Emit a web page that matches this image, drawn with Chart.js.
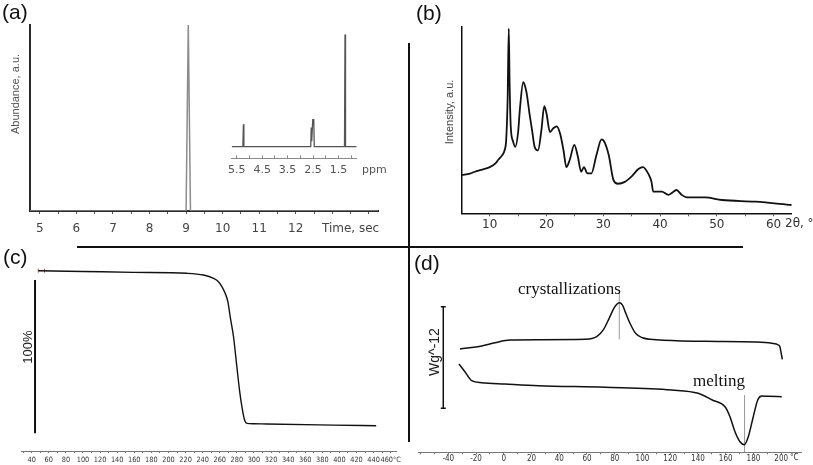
<!DOCTYPE html>
<html>
<head>
<meta charset="utf-8">
<script src="https://cdn.jsdelivr.net/npm/chart.js@4.4.1/dist/chart.umd.min.js"></script>
<style>
  body { margin: 0; background: #fff; width: 813px; height: 465px; overflow: hidden; position: relative; font-family: 'Liberation Sans', Arial, sans-serif; }
  .box { position: absolute; }
  .txt { position: absolute; white-space: nowrap; line-height: 1; color: #111; }
  .rot { transform: translate(-50%, -50%) rotate(-90deg); }
  .rule { position: absolute; background: #111; }
  .serif { font-family: 'Liberation Serif', 'Times New Roman', serif; font-size: 17px; }
</style>
</head>
<body>
<div class="box" style="left:0;top:0;width:405px;height:240px"><canvas id="gcChart"></canvas></div>
<div class="box" style="left:200px;top:25px;width:200px;height:155px"><canvas id="nmrChart"></canvas></div>
<div class="box" style="left:438px;top:0;width:375px;height:240px"><canvas id="xrdChart"></canvas></div>
<div class="box" style="left:0;top:250px;width:405px;height:215px"><canvas id="tgaChart"></canvas></div>
<div class="box" style="left:410px;top:250px;width:403px;height:215px"><canvas id="dscChart"></canvas></div>

<div class="rule" style="left:408px;top:43px;width:2px;height:399px"></div>
<div class="rule" style="left:77px;top:246px;width:666px;height:2px"></div>

<div class="txt" style="left:2px;top:1px;font-size:21px">(a)</div>
<div class="txt" style="left:416px;top:2px;font-size:21px">(b)</div>
<div class="txt" style="left:3px;top:246px;font-size:21px">(c)</div>
<div class="txt" style="left:414px;top:252px;font-size:21px">(d)</div>

<div class="txt rot" style="left:15px;top:94px;font-size:11px;color:#555">Abundance, a.u.</div>
<div class="txt" style="left:362px;top:164px;font-size:11px;color:#555;font-family:'DejaVu Sans',sans-serif">ppm</div>
<div class="txt rot" style="left:449px;top:112px;font-size:11px;color:#444">Intensity, a.u.</div>
<div class="txt" style="left:785px;top:217px;font-size:12px;color:#333;font-family:'DejaVu Sans',sans-serif">2θ, °</div>
<div class="txt rot" style="left:27px;top:347px;font-size:13px;color:#222">100%</div>
<div class="txt rot" style="left:434px;top:352px;font-size:14px;color:#222">Wg^-12</div>
<div class="txt serif" style="left:518px;top:280px">crystallizations</div>
<div class="txt serif" style="left:693px;top:372px">melting</div>
<div class="txt" style="left:790px;top:454px;font-size:8px;color:#333;font-family:'DejaVu Sans Condensed','DejaVu Sans',sans-serif">°C</div>

<script>
// (a) chromatogram, retention time in s
const gcTime = [4.73, 9.0, 9.06, 9.12, 14.25];
const gcAbund = [0, 0, 100, 0, 0];
const gcLabels = [5, 6, 7, 8, 9, 10, 11, 12];

// (a) inset 1H NMR, ppm
const nmrPpm = [5.7, 5.26, 5.24, 5.22, 2.59, 2.57, 2.55, 2.51, 2.47, 2.45, 1.26, 1.24, 1.22, 0.78];
const nmrInt = [0, 0, 20, 0, 0, 17, 5, 24, 24, 0, 0, 100, 0, 0];
const nmrLabels = [5.5, 4.5, 3.5, 2.5, 1.5];

// (b) XRD pattern
const xrdAngle = [5.1, 6.5, 7.4, 8.5, 10, 11, 11.5, 12.2, 12.6, 12.9, 13.15, 13.35, 13.5, 13.7, 14.1, 14.5,
  15.0, 15.3, 15.9, 16.2, 16.5, 17, 17.5, 17.9, 18.5, 19.1, 19.6, 20, 20.6, 21.2, 21.8, 22.4, 23, 23.5,
  24.1, 24.9, 25.5, 26.1, 26.6, 27.2, 27.9, 28.8, 29.7, 30.3, 31, 31.8, 32.6, 33.8, 35, 36.2, 37, 37.9,
  38.5, 38.8, 40.3, 41.5, 42, 42.9, 43.8, 44.7, 47.9, 50.9, 56.8, 63.2];
const xrdInt = [20.7, 21.5, 22.5, 23.5, 25, 27, 29, 31.5, 34, 40, 62, 100, 70, 47, 39, 36,
  44, 56, 71, 69, 65, 54, 44, 36, 34, 45, 58, 54, 44, 46, 47, 43, 34, 25,
  29, 37, 31, 22.5, 25, 21.6, 21.6, 31.5, 40, 38, 31, 18, 16, 17, 20, 24, 25, 21.6,
  17, 11.7, 11.7, 10, 10.8, 12.6, 10, 8.6, 8.6, 7.2, 6.3, 4.5];
const xrdLabels = [10, 20, 30, 40, 50, 60];

// (c) TGA, mass %
const tgaTemp = [47.7, 100, 159, 221.5, 241, 252.7, 258.5, 262.5, 266.3, 269.5, 272.2, 276.1, 280, 283.1,
  285.9, 289, 291.8, 299.5, 315, 393, 443];
const tgaMass = [100, 99.5, 98.9, 98.3, 97.2, 95.1, 92.9, 89.7, 85.4, 80, 70.3, 57.4, 38.1, 23,
  12.3, 3.7, 1.5, 1.3, 1.1, 0.4, 0];
const tgaBarTemp = [43.9, 43.9];
const tgaBarMass = [-4.9, 94];
const tgaStartTemp = [47.7, 55];
const tgaStartMass = [100, 100];
const tgaLabels = [40, 60, 80, 100, 120, 140, 160, 180, 200, 220, 240, 260, 280, 300, 320, 340, 360, 380, 400, 420, 440, 460];

// (d) DSC, heat flow (arbitrary)
const coolTemp = [-31.6, -15.9, -6.3, 4.5, 24.9, 58.6, 67, 72, 76, 79, 81.5, 83.3, 85.5, 88, 91, 95, 100, 110,
  145, 181, 193.2, 198, 199.1, 199.8, 200.8];
const coolFlow = [10.33, 10.63, 10.96, 11.23, 11.26, 11.3, 11.56, 12.3, 13.4, 14.3, 14.8, 14.96, 14.75, 13.9,
  12.9, 11.9, 11.45, 11.25, 11.1, 11.03, 10.9, 10.73, 10.56, 10.06, 9.3];
const heatTemp = [-32.3, -28, -23.1, -15.9, 0.9, 24.9, 73, 121, 140.2, 150.3, 159.5, 163.1, 166.7, 170.3,
  173.4, 176.3, 179.9, 183.1, 186, 190.7, 200.4];
const heatFlow = [8.83, 8.06, 7.16, 6.96, 6.83, 6.66, 6.5, 6.23, 5.9, 5.23, 4.56, 3.56, 2.06, 1.06,
  0.76, 1.56, 3.56, 5.23, 5.63, 5.6, 5.56];
const dscBarTemp = [-43.6, -43.6];
const dscBarFlow = [4.4, 14.56];
const crystMarkTemp = [83.3, 83.3];
const crystMarkFlow = [11.3, 16.23];
const meltMarkTemp = [173.6, 173.6];
const meltMarkFlow = [0, 5.73];
const dscLabels = [-40, -20, 0, 20, 40, 60, 80, 100, 120, 140, 160, 180, 200];

const sans = "'DejaVu Sans', Verdana, sans-serif";
const narrow = "'DejaVu Sans Condensed', 'Liberation Sans Narrow', 'DejaVu Sans', sans-serif";

function series(xs, ys, color, width, extra) {
  return Object.assign({
    data: xs.map((x, i) => ({ x, y: ys[i] })),
    showLine: true, borderColor: color, borderWidth: width,
    pointRadius: 0, tension: 0, fill: false
  }, extra || {});
}

function pick(list) {
  return v => (list.some(t => Math.abs(t - v) < 1e-6) ? String(v) : '');
}

function bottomAxis(c) {
  return {
    type: 'linear', min: c.min, max: c.max, reverse: !!c.reverse,
    border: { display: true, color: c.axisColor || '#222', width: c.axisWidth || 1.5 },
    grid: { display: true, drawOnChartArea: false, drawTicks: true, tickLength: c.tickLength, color: c.tickColor || '#555', lineWidth: 1 },
    ticks: {
      stepSize: c.step, includeBounds: false, autoSkip: false, maxRotation: 0, minRotation: 0,
      padding: c.padding, color: c.color, font: c.font, callback: c.label
    },
    afterFit: s => { s.height = c.height; }
  };
}

function leftAxis(min, max, width, color, lw) {
  return {
    type: 'linear', min, max,
    border: { display: true, color, width: lw },
    grid: { display: false }, ticks: { display: false },
    afterFit: s => { s.width = width; }
  };
}

function opts(padding, scales) {
  return {
    responsive: true, maintainAspectRatio: false, animation: false, events: [],
    layout: { padding },
    plugins: { legend: { display: false }, tooltip: { enabled: false } },
    scales
  };
}

function draw(id, datasets, options) {
  return new Chart(document.getElementById(id), { type: 'scatter', data: { datasets }, options });
}

// (a)
draw('gcChart', [series(gcTime, gcAbund, '#8c8c8c', 1.5)], opts(
  { left: 0, top: 25, right: 27, bottom: 0 },
  {
    x: bottomAxis({
      min: 4.73, max: 14.25, step: 0.5, tickLength: 3, padding: 8, height: 29,
      axisColor: '#2a2a2a', axisWidth: 2, color: '#444', font: { family: sans, size: 12 },
      label: v => (Math.abs(v - 13.5) < 1e-6 ? 'Time, sec' : pick(gcLabels)(v))
    }),
    y: leftAxis(0, 100, 30, '#2a2a2a', 2)
  }));

// (a) inset
draw('nmrChart', [series(nmrPpm, nmrInt, '#555', 1.3)], opts(
  { left: 31.7, top: 9.3, right: 43.3, bottom: 0 },
  {
    x: bottomAxis({
      min: 0.78, max: 5.7, reverse: true, step: 0.5, tickLength: -3, padding: 8.5, height: 21.7,
      axisColor: '#888', axisWidth: 1, tickColor: '#888', color: '#555', font: { family: sans, size: 11 },
      label: pick(nmrLabels)
    }),
    y: { type: 'linear', display: false, min: -10.3, max: 100 }
  }));

// (b)
draw('xrdChart', [series(xrdAngle, xrdInt, '#111', 1.8, { cubicInterpolationMode: 'monotone' })], opts(
  { left: 0, top: 26.7, right: 21.3, bottom: 0 },
  {
    x: bottomAxis({
      min: 5.11, max: 63.2, step: 5, tickLength: 3, padding: 1, height: 26.7,
      axisColor: '#111', axisWidth: 1.5, color: '#333', font: { family: sans, size: 12 },
      label: pick(xrdLabels)
    }),
    y: leftAxis(0, 101, 24, '#111', 1.5)
  }));

// (c)
draw('tgaChart', [
  series(tgaTemp, tgaMass, '#111', 1.4, { cubicInterpolationMode: 'monotone' }),
  series(tgaBarTemp, tgaBarMass, '#111', 2),
  series(tgaStartTemp, tgaStartMass, '#c0504d', 1, { showLine: false, pointRadius: 2, pointStyle: 'line', rotation: 90 })
], opts(
  { left: 21.7, top: 12, right: 8.3, bottom: 0 },
  {
    x: bottomAxis({
      min: 28.3, max: 467, step: 10, tickLength: 2, padding: 2.8, height: 14,
      axisColor: '#777', axisWidth: 1, tickColor: '#777', color: '#333', font: { family: narrow, size: 7.3 },
      label: v => (Math.abs(v - 460) < 1e-6 ? '460°C' : pick(tgaLabels)(v))
    }),
    y: { type: 'linear', display: false, min: -16.3, max: 105.6 }
  }));

// (d)
draw('dscChart', [
  series(coolTemp, coolFlow, '#111', 1.5, { cubicInterpolationMode: 'monotone' }),
  series(heatTemp, heatFlow, '#111', 1.5, { cubicInterpolationMode: 'monotone' }),
  series(dscBarTemp, dscBarFlow, '#111', 1.5, { pointRadius: 2.5, pointStyle: 'line', pointBorderColor: '#111', pointBorderWidth: 1.5 }),
  series(crystMarkTemp, crystMarkFlow, '#999', 1),
  series(meltMarkTemp, meltMarkFlow, '#999', 1)
], opts(
  { left: 8.3, top: 12, right: 11.3, bottom: 0 },
  {
    x: bottomAxis({
      min: -61.6, max: 214.8, step: 10, tickLength: 2, padding: 0, height: 12.7,
      axisColor: '#777', axisWidth: 1, tickColor: '#777', color: '#333', font: { family: narrow, size: 8 },
      label: pick(dscLabels)
    }),
    y: { type: 'linear', display: false, min: 0, max: 19.03 }
  }));
</script>
</body>
</html>
